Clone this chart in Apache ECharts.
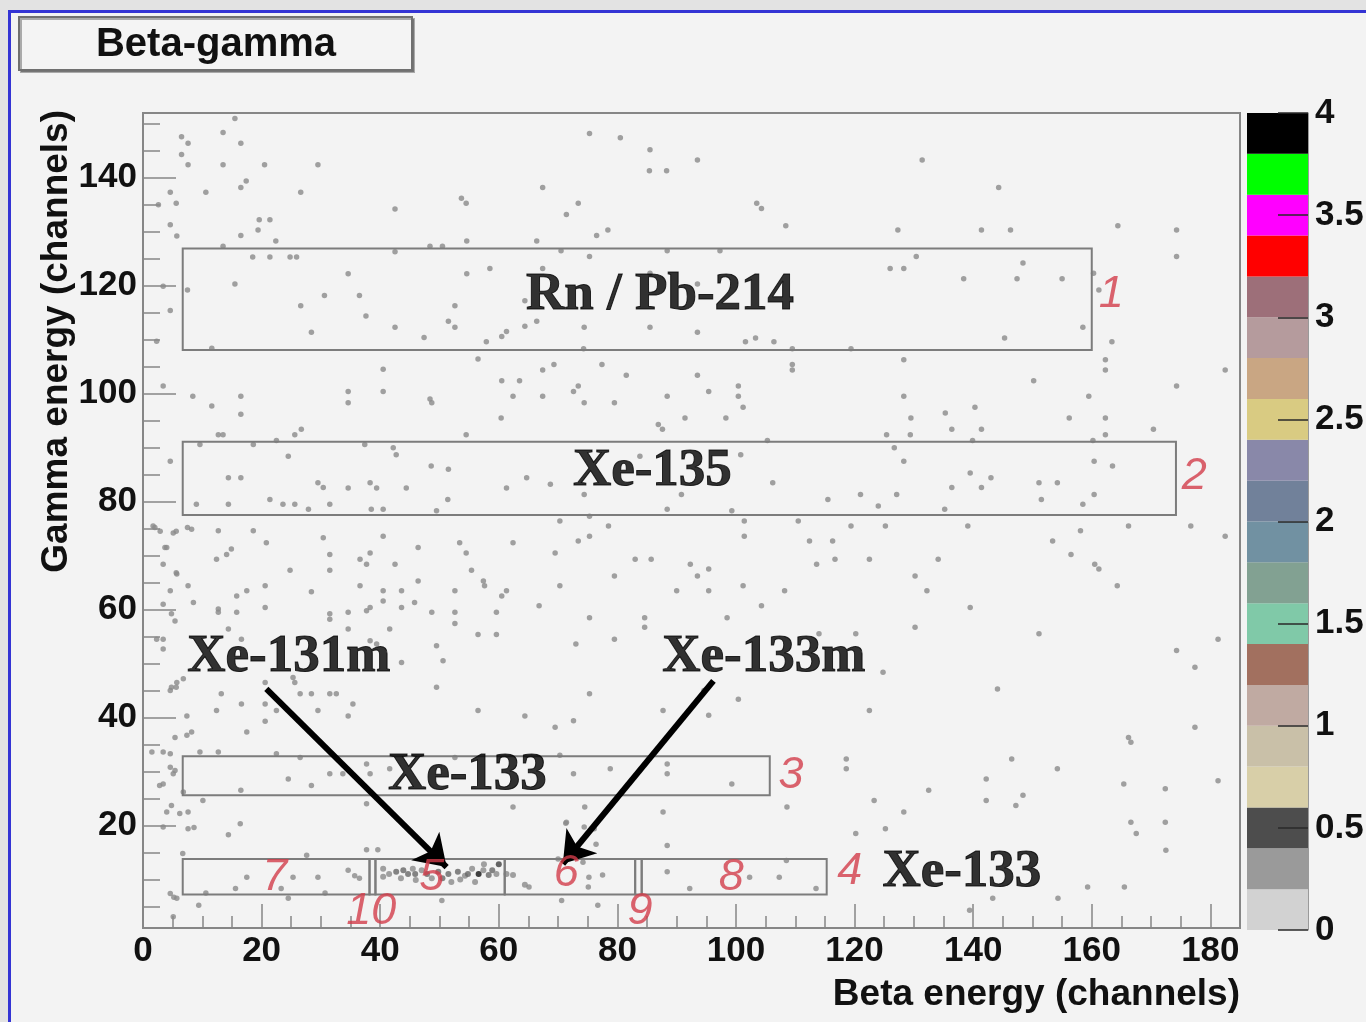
<!DOCTYPE html>
<html><head><meta charset="utf-8">
<script src="https://cdn.jsdelivr.net/npm/echarts@6/dist/echarts.min.js"></script>
<style>html,body{margin:0;padding:0;background:#f3f3f3;}#c{width:1366px;height:1022px;}</style>
</head><body><div id="c"></div>
<script>
// ---------- data ----------
const xMajorTicks = [0,20,40,60,80,100,120,140,160,180];
const xMinorTicks = [5,10,15,25,30,35,45,50,55,65,70,75,85,90,95,105,110,115,125,130,135,145,150,155,165,170,175];
const yMajorTicks = [20,40,60,80,100,120,140];
const yMinorTicks = [5,10,15,25,30,35,45,50,55,65,70,75,85,90,95,105,110,115,125,130,135,145,150];
const xRange = [0,185];
const yRange = [1,152];

// colour palette of the z axis (band upper edges and colours, bottom to top)
const paletteEdges = [0.2,0.4,0.6,0.8,1.0,1.2,1.4,1.6,1.8,2.0,2.2,2.4,2.6,2.8,3.0,3.2,3.4,3.6,3.8,4.0];
const paletteColors = ['#d2d2d2','#9a9a9a','#4d4d4d','#d8cfa8','#c9c0a8','#c0aaa2','#a2705f','#80c9a8','#82a192','#7191a2',
  '#71819a','#8988a9','#d9cb82','#c9a683','#b59b9d','#9d6f79','#ff0000','#ff00ff','#00ff00','#000000'];
const zTicks = [0,0.5,1,1.5,2,2.5,3,3.5,4];

// single-count bins (beta channel, gamma channel)
const backgroundHits = [
[15.5,151.0],[6.5,147.6],[7.6,146.4],[13.5,148.4],[16.5,146.4],[6.5,144.3],[7.6,142.4],[13.5,142.4],[20.5,142.4],[29.5,142.4],
[17.4,139.4],[16.5,138.2],[4.6,137.3],[10.6,137.3],[26.6,137.3],[5.6,135.3],[2.6,135.0],[42.5,134.2],[53.7,136.2],[54.5,135.3],
[19.6,132.2],[21.4,132.2],[4.6,131.3],[19.4,130.3],[16.5,129.3],[5.7,129.2],[22.4,128.3],[54.6,128.3],[13.5,127.3],[42.5,126.3],
[48.4,127.3],[50.5,127.3],[18.5,125.3],[21.4,125.3],[24.8,125.3],[25.9,125.3],[34.6,122.2],[54.6,122.2],[58.5,123.2],[15.5,120.3],
[7.5,119.2],[3.4,119.9],[30.6,118.2],[36.5,118.2],[26.6,116.3],[52.6,116.3],[37.6,114.4],[4.6,115.4],[64.4,117.2],[28.4,111.4],
[42.5,112.3],[51.5,113.4],[52.6,112.3],[47.4,110.4],[57.9,109.6],[60.5,110.6],[61.3,111.5],[64.4,112.5],[2.3,109.7],[11.6,108.4],
[56.5,106.4],[40.5,104.5],[40.5,100.4],[34.6,100.4],[60.5,102.4],[63.5,102.4],[62.4,99.5],[3.4,101.4],[8.4,99.5],[16.5,99.5],[48.4,99.0],
[11.6,97.7],[16.5,96.2],[34.6,98.3],[48.7,98.3],[60.4,95.5],[12.7,92.4],[13.5,92.4],[25.6,92.4],[26.7,93.4],[54.5,92.4],
[9.6,90.6],[18.6,90.6],[22.5,91.3],[37.4,90.6],[42.2,90.0],[42.7,88.7],[24.5,88.4],[4.6,87.5],[48.6,86.6],[51.5,86.0],
[14.4,84.4],[16.5,84.4],[29.5,83.5],[30.4,82.6],[34.6,82.5],[38.3,83.5],[39.4,82.5],[44.4,82.5],[61.3,82.5],[64.7,84.4],
[51.4,80.4],[21.4,80.4],[9.0,79.5],[14.4,79.5],[23.6,79.5],[25.6,79.5],[27.9,78.6],[31.5,79.5],[38.5,78.6],[40.5,78.6],[49.5,78.3],
[2.0,75.2],[5.1,74.2],[8.2,74.9],[12.7,74.6],[18.6,74.6],[20.8,72.4],[30.4,73.3],[40.5,73.6],[53.4,72.4],[54.5,70.5],[62.4,72.4],
[3.7,71.5],[14.9,71.2],[14.1,70.2],[12.4,69.3],[31.5,70.2],[38.3,70.5],[36.6,69.3],[37.7,68.4],[46.4,71.5],[42.5,68.4],
[24.8,67.3],[31.5,67.3],[55.4,67.3],[3.4,68.4],[5.7,66.6],[7.6,64.4],[20.6,64.4],[36.6,64.4],[46.4,65.3],[57.4,65.3],[57.6,64.4],
[4.6,63.5],[17.5,63.5],[15.8,62.5],[28.4,63.3],[40.5,63.5],[40.5,61.6],[43.6,63.5],[43.6,60.4],[52.6,63.5],[61.3,63.5],[60.5,62.5],
[8.5,61.3],[45.8,61.3],[12.7,60.1],[12.7,59.5],[15.8,59.5],[20.6,60.4],[31.5,59.2],[31.5,58.2],[34.6,59.5],[37.7,59.8],[38.3,60.4],
[48.7,59.5],[52.6,59.5],[52.6,57.4],[59.6,59.5],[4.8,59.2],[5.4,57.9],[3.4,61.0],[14.4,56.4],[34.6,56.4],[41.6,56.4],[56.5,55.4],
[59.6,55.4],[2.3,54.5],[3.4,54.5],[16.6,54.5],[38.3,54.2],[39.4,53.6],[49.5,53.3],[3.4,52.7],[43.6,50.2],[50.6,50.5],
[4.8,45.6],[5.7,46.5],[20.6,46.5],[25.3,47.4],[25.6,46.5],[49.5,45.6],[13.2,44.4],[26.5,44.4],[28.4,44.4],[31.5,44.4],[32.6,44.4],
[16.6,42.5],[20.6,42.5],[22.5,41.3],[29.5,41.3],[35.4,42.5],[34.6,40.3],[56.5,41.3],[64.4,40.3],[12.4,41.3],[7.4,40.3],[20.6,39.3],
[17.5,37.3],[8.2,37.3],[7.4,36.7],[5.4,36.3],[1.5,33.6],[3.4,33.6],[9.6,33.6],[12.7,33.6],[22.5,33.3],[26.5,32.6],[52.6,32.6],
[4.6,30.8],[5.1,29.6],[31.5,29.6],[33.7,29.6],[37.7,31.4],[38.3,29.6],[41.6,30.5],[24.5,28.6],[28.4,27.4],[2.8,27.4],[3.4,27.7],
[6.8,26.2],[16.5,26.5],[62.4,23.4],[10.1,24.6],[4.8,23.7],[6.2,22.2],[37.7,24.0],
[1.7,75.5],[2.9,74.5],[5.6,74.5],[7.5,75.2],[4.0,71.5],[5.6,66.8],[5.6,45.6],[4.6,45.0],[6.8,47.2],[4.6,33.3],[5.4,30.2],
[4.0,22.5],[7.6,22.5],[7.6,19.4],[3.4,19.7],[4.6,7.4],[5.7,6.5],[5.1,3.1],
[75.3,148.2],[80.5,147.4],[85.5,145.2],[93.5,143.3],[85.4,141.3],[88.3,141.3],[131.4,143.3],[67.4,138.2],[144.3,138.2],[73.4,135.3],
[71.4,133.2],[103.5,135.3],[104.3,134.3],[108.4,131.1],[76.5,129.3],[78.4,130.3],[127.3,130.3],[141.4,130.3],[146.3,130.3],[66.4,128.3],
[164.4,131.1],[174.3,130.3],[70.5,126.5],[88.4,126.5],[97.3,126.5],[75.3,125.4],[130.4,125.4],[126.0,123.2],[128.3,123.2],[148.4,124.2],
[174.3,125.4],[67.4,123.2],[85.5,122.3],[93.5,120.3],[138.4,121.3],[147.4,121.3],[155.0,121.3],[160.3,122.3],[161.2,119.2],[66.4,113.4],
[74.4,112.3],[85.5,112.3],[93.5,111.4],[158.5,112.3],[145.3,110.3],[101.6,109.6],[103.3,110.3],[106.4,109.6],[74.3,108.3],[109.5,108.3],
[119.4,108.3],[163.4,109.6],[67.4,104.4],[69.3,105.4],[77.4,105.4],[81.5,103.4],[93.5,103.4],[109.5,105.4],[109.5,104.4],[128.3,106.3],
[162.3,106.3],[162.3,104.4],[150.2,102.4],[182.5,104.4],[174.3,101.4],[67.4,99.5],[72.6,100.4],[73.4,101.4],[74.4,98.3],[79.5,98.3],
[88.4,99.5],[95.4,100.4],[100.4,101.4],[100.4,99.5],[101.2,97.5],[128.3,99.5],[159.5,99.5],[91.4,95.5],[98.3,95.5],[86.9,94.3],
[87.6,93.4],[135.3,96.4],[140.3,97.5],[136.4,93.4],[141.4,93.4],[129.5,95.5],[156.2,95.5],[162.3,95.5],[170.4,93.4],[105.3,91.3],
[125.4,92.4],[139.9,91.3],[160.2,91.3],[162.3,92.4],[126.7,90.0],[129.4,92.4],
[83.8,88.4],[74.4,81.3],[68.7,83.2],[90.8,81.3],[88.4,78.6],[99.3,78.3],[106.2,83.5],[100.8,88.7],[115.5,80.4],[121.0,81.3],
[124.0,79.2],[127.1,81.3],[128.3,87.5],[136.4,82.6],[141.4,82.6],[139.5,85.3],[143.0,84.4],[151.1,83.5],[154.2,83.5],[151.5,80.4],
[158.5,79.5],[160.4,81.3],[160.4,87.5],[163.5,86.6],[135.2,78.6],[70.3,76.4],[75.3,77.3],[78.5,75.5],[101.4,76.4],[101.4,73.6],
[110.5,76.4],[119.4,75.5],[125.2,75.5],[139.1,75.5],[158.1,74.6],[166.2,75.5],[176.7,75.5],[182.5,73.6],[73.4,72.7],[75.3,73.6],
[112.4,72.7],[116.3,72.7],[153.4,72.7],[69.5,70.5],[83.0,69.3],[85.7,69.3],[92.3,68.4],[95.4,67.5],[93.5,66.2],[113.6,68.4],
[116.7,69.3],[122.5,69.3],[134.1,69.3],[156.5,70.2],[161.2,67.5],[160.5,68.4],[79.5,66.2],[130.2,66.2],[70.3,64.4],[90.0,63.5],
[95.4,63.5],[101.2,64.4],[108.2,63.5],[132.2,63.5],[164.3,64.4],[66.8,60.7],[104.3,60.7],[139.5,60.4],[75.3,58.5],[84.6,58.5],
[84.6,56.7],[98.5,58.5],[130.2,56.7],[151.1,55.5],[73.0,53.6],[79.5,54.5],[114.0,55.5],[120.2,55.5],[181.3,54.5],[174.3,52.4],
[177.4,49.3],[124.8,48.4],[144.1,45.3],[75.3,44.4],[94.6,45.0],[100.4,43.4],[122.5,41.3],[87.7,41.3],[95.4,40.4],[69.5,38.2],
[72.6,39.4],[177.4,38.2],[166.2,36.3],[166.6,35.4],[70.3,33.0],[72.6,29.6],[78.8,30.5],[88.4,31.4],[88.4,29.6],[99.3,27.7],
[118.6,32.3],[118.6,30.5],[146.5,32.3],[154.2,30.5],[142.2,28.6],[148.4,25.6],[147.2,23.7],[132.5,26.5],[123.3,24.6],[128.3,22.5],
[142.2,24.6],[165.4,27.7],[172.4,26.8],[181.3,28.3],[166.6,20.6],[172.4,20.6],[108.6,23.4],[87.7,22.5],[74.5,23.4],[71.4,20.6],
[76.1,19.4],[120.2,18.5],[125.2,19.4],
[172.5,15.4],[167.5,18.5],[139.4,4.3],[143.3,6.5],[154.3,6.5],[159.3,8.6],[165.5,8.6],
[8.6,19.6],[16.4,20.3],[14.4,18.3],[27.6,14.5],[37.7,15.5],[39.6,15.5],[71.3,20.4],[74.4,19.7],[76.4,16.5],[88.4,16.3],
[6.7,14.8],[5.2,6.7],[9.4,5.2],[24.5,6.5],[50.4,6.1],[70.6,6.1],[76.7,5.2],
[10.6,7.5],[15.6,8.3],[17.5,10.4],[23.3,8.3],[25.3,10.4],[29.5,10.4],[30.7,7.5],[34.6,11.7],[35.7,10.7],[36.5,10.2],
[65.1,8.6],[70.0,13.8],[74.2,13.2],[75.2,10.4],[77.5,10.8],[75.1,8.6],
[88.4,11.4],[92.2,8.3],[102.3,10.4],[107.3,10.4],[108.5,13.5],[113.5,8.3]
];

// multi-count bins in the Xe-131m / Xe-133m region: [beta, gamma, counts]
const peakHits = [
[40.5,12.0,1],[40.5,10.5,1],[42.7,11.4,2],[43.9,11.7,2],[44.7,11.0,2],[45.9,11.0,2],[47.0,11.7,1],[47.9,11.0,2],
[48.7,10.2,1],[49.8,11.4,2],[51.5,11.0,2],[52.0,9.5,1],[53.1,11.4,2],[54.3,10.7,1],[54.8,11.0,2],[56.6,11.0,4],
[57.4,11.7,1],[58.3,10.8,2],[58.9,11.7,2],[59.6,11.0,1],[61.3,11.0,1],[62.4,10.8,1],[43.5,10.2,1],[46.0,9.9,1],
[50.5,10.2,2],[53.5,10.0,1],[56.0,9.5,1],[60.0,12.8,3],[57.5,12.8,1],[55.5,12.0,1],[45.5,12.0,1],[41.5,11.0,1],[64.4,9.0,1]
];

// regions of interest: [betaMin, gammaMin, betaMax, gammaMax]
const roiBoxes = [
[6.7,108.1,160.0,126.9],
[6.7,77.5,174.2,91.1],
[6.7,25.6,105.7,32.8],
[6.7,7.2,38.2,13.8],[38.2,7.2,39.2,13.8],[39.2,7.2,61.0,13.8],[61.0,7.2,83.0,13.8],[83.0,7.2,84.1,13.8],[84.1,7.2,115.3,13.8]
];
const roiNumbers = [
{name:'1',value:[163.3,118.3]},{name:'2',value:[177.3,84.7]},{name:'3',value:[109.3,29.3]},{name:'4',value:[119.2,11.4]},
{name:'5',value:[48.7,10.4]},{name:'6',value:[71.4,11.1]},{name:'7',value:[22.2,10.4]},{name:'8',value:[99.2,10.4]},
{name:'9',value:[83.8,4.1]},{name:'10',value:[38.5,4.0]}
];
const isotopeLabels = [
{name:'Rn / Pb-214',value:[87.2,118.2]},{name:'Xe-135',value:[85.9,85.6]},{name:'Xe-131m',value:[24.6,51.1]},
{name:'Xe-133m',value:[104.7,51.1]},{name:'Xe-133',value:[54.7,29.3]},{name:'Xe-133',value:[138.1,11.4]}
];
const arrows = [
[[20.8,45.3],[51.2,12.3]],
[[96.2,46.8],[70.8,12.9]]
];

// ---------- chart ----------
const peakShades = {1:'#8a8a8a',2:'#666666',3:'#404040',4:'#111111'};
const axisGray = '#868686';
const tickFont = {fontFamily:'Liberation Sans',fontWeight:'bold',fontSize:35,color:'#111111'};

const chart = echarts.init(document.getElementById('c'), null, {renderer:'canvas'});
const bandHeights = paletteEdges.map((e,i)=> +(e - (i ? paletteEdges[i-1] : 0)).toFixed(4));

const option = {
  backgroundColor:'#f3f3f3',
  animation:false,
  grid:[
    {left:143, top:113, width:1097, height:815, show:true, borderColor:axisGray, borderWidth:2, backgroundColor:'transparent', outerBoundsMode:'none'},
    {left:1247, top:113, width:61, height:817, show:false, outerBoundsMode:'none'}
  ],
  xAxis:[
    {gridIndex:0, type:'value', min:xRange[0], max:xRange[1], position:'bottom',
     axisLine:{show:true, lineStyle:{color:axisGray, width:2}},
     axisTick:{show:true, inside:true, length:24, customValues:xMajorTicks, lineStyle:{color:axisGray, width:1.5}},
     axisLabel:{show:true, customValues:xMajorTicks, margin:6, ...tickFont},
     splitLine:{show:false}},
    {gridIndex:0, type:'value', min:xRange[0], max:xRange[1], position:'bottom',
     axisLine:{show:false},
     axisTick:{show:true, inside:true, length:12, customValues:xMinorTicks, lineStyle:{color:axisGray, width:1.5}},
     axisLabel:{show:false}, splitLine:{show:false}},
    {gridIndex:1, type:'category', data:['z'], show:false}
  ],
  yAxis:[
    {gridIndex:0, type:'value', min:yRange[0], max:yRange[1], position:'left',
     axisLine:{show:true, lineStyle:{color:axisGray, width:2}},
     axisTick:{show:true, inside:true, length:33, customValues:yMajorTicks, lineStyle:{color:axisGray, width:1.5}},
     axisLabel:{show:true, customValues:yMajorTicks, margin:6, ...tickFont},
     splitLine:{show:false}},
    {gridIndex:0, type:'value', min:yRange[0], max:yRange[1], position:'left',
     axisLine:{show:false},
     axisTick:{show:true, inside:true, length:17, customValues:yMinorTicks, lineStyle:{color:axisGray, width:1.5}},
     axisLabel:{show:false}, splitLine:{show:false}},
    {gridIndex:1, type:'value', min:0, max:4, position:'right', z:10,
     axisLine:{show:true, lineStyle:{color:'#9a9a9a', width:1}},
     axisTick:{show:true, inside:true, length:30, customValues:zTicks, lineStyle:{color:'#2a2a2a', width:1.5}},
     axisLabel:{show:true, customValues:zTicks, margin:7, ...tickFont},
     splitLine:{show:false}}
  ],
  graphic:[
    {type:'rect', shape:{x:0,y:0,width:1366,height:10}, style:{fill:'#e3e3e3'}, z:-1},
    {type:'rect', shape:{x:0,y:0,width:8,height:1022}, style:{fill:'#e3e3e3'}, z:-1},
    {type:'rect', shape:{x:9.5,y:11.5,width:1400,height:1040}, style:{fill:'none', stroke:'#3434d4', lineWidth:3}, z:1},
    {type:'rect', shape:{x:19,y:17,width:393,height:53},
     style:{fill:'#f4f4f4', stroke:'#707070', lineWidth:2, shadowColor:'rgba(0,0,0,0.3)', shadowOffsetX:2, shadowOffsetY:2}, z:1},
    {type:'text', x:216, y:45, style:{text:'Beta-gamma', font:'bold 40px "Liberation Sans"', fill:'#111111', align:'center', verticalAlign:'middle'}, z:2},
    {type:'text', x:57, y:110, rotation:Math.PI/2, style:{text:'Gamma energy (channels)', font:'bold 37px "Liberation Sans"', fill:'#111111', align:'right', verticalAlign:'middle'}, z:2},
    {type:'text', x:1240, y:995, style:{text:'Beta energy (channels)', font:'bold 37px "Liberation Sans"', fill:'#111111', align:'right', verticalAlign:'middle'}, z:2}
  ],
  series:[
    {type:'scatter', xAxisIndex:0, yAxisIndex:0, data:backgroundHits, symbol:'circle', symbolSize:5.5,
     itemStyle:{color:'#8a8a8a'}, silent:true, z:2},
    {type:'scatter', xAxisIndex:0, yAxisIndex:0, data:peakHits, symbol:'circle', symbolSize:6,
     itemStyle:{color:p=>peakShades[p.value[2]]}, silent:true, z:2},
    {type:'custom', xAxisIndex:0, yAxisIndex:0, data:roiBoxes, silent:true, z:3,
     renderItem:(params, api)=>{
       const p1 = api.coord([api.value(0), api.value(3)]);
       const p2 = api.coord([api.value(2), api.value(1)]);
       return {type:'rect', shape:{x:p1[0], y:p1[1], width:p2[0]-p1[0], height:p2[1]-p1[1]},
               style:{fill:'none', stroke:'#7c7c7c', lineWidth:2}};
     }},
    {type:'lines', coordinateSystem:'cartesian2d', xAxisIndex:0, yAxisIndex:0, silent:true, z:5,
     data:arrows.map(c=>({coords:c})),
     symbol:['none','arrow'], symbolSize:[1,30],
     lineStyle:{color:'#000', width:6, opacity:1}},
    {type:'scatter', xAxisIndex:0, yAxisIndex:0, data:roiNumbers, symbolSize:1, itemStyle:{color:'transparent'}, silent:true, z:6,
     label:{show:true, position:'inside', formatter:'{b}', fontFamily:'Liberation Sans', fontStyle:'italic', fontSize:45, color:'#d23c4a'}},
    {type:'scatter', xAxisIndex:0, yAxisIndex:0, data:isotopeLabels, symbolSize:1, itemStyle:{color:'transparent'}, silent:true, z:6,
     label:{show:true, position:'inside', formatter:'{b}', fontFamily:'Liberation Serif', fontWeight:'bold', fontSize:53,
            color:'#000000', textBorderColor:'#000000', textBorderWidth:1}},
    ...paletteColors.map((c,i)=>({type:'bar', xAxisIndex:2, yAxisIndex:2, stack:'palette', data:[bandHeights[i]],
      barWidth:'100%', barCategoryGap:0, itemStyle:{color:c}, silent:true, z:2}))
  ]
};
chart.setOption(option);
</script>
</body></html>
